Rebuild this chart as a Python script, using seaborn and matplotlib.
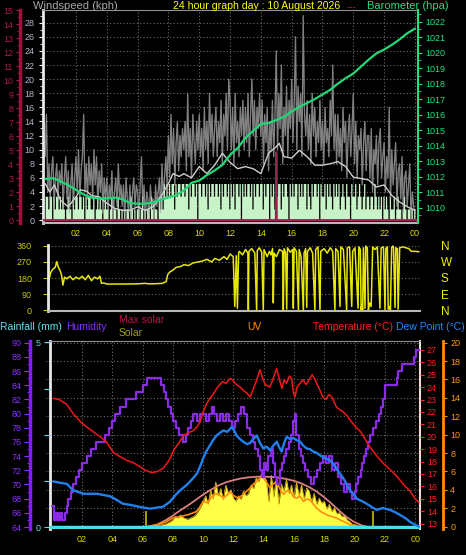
import numpy as np
import matplotlib
matplotlib.use('Agg')
import matplotlib.pyplot as plt
import seaborn as sns

W, H = 466, 555

# hour ticks
hour_pos = [2, 4, 6, 8, 10, 12, 14, 16, 18, 20, 22, 24]
hour_lbl = ['02', '04', '06', '08', '10', '12', '14', '16', '18', '20', '22', '00']

# ---------------- wind / barometer ----------------
baro_t = np.arange(0, 24.01, 0.5)
baro = [1011.85, 1011.9, 1011.7, 1011.45, 1011.15, 1010.85, 1010.65, 1010.6, 1010.6, 1010.65,
        1010.55, 1010.3, 1010.25, 1010.25, 1010.35, 1010.5, 1010.65, 1010.8, 1011.1, 1011.6,
        1011.75, 1012.1, 1012.4, 1012.75, 1013.4, 1013.85, 1014.5, 1014.95, 1015.4, 1015.45,
        1015.65, 1015.85, 1016.2, 1016.5, 1016.75, 1017.0, 1017.3, 1017.6, 1018.0, 1018.35,
        1018.65, 1019.1, 1019.55, 1019.95, 1020.2, 1020.5, 1020.85, 1021.25, 1021.55]

avg_t = [0, 0.3, 0.6, 1, 1.5, 2, 2.3, 2.7, 3, 3.5, 4, 4.5, 5, 5.5, 6, 6.5, 7, 7.5, 8, 8.3, 8.7, 9,
         9.5, 10, 10.5, 11, 11.5, 12, 12.5, 13, 13.5, 14, 14.5, 15, 15.2, 15.5, 16, 16.5, 17, 17.5,
         18, 18.5, 19, 19.5, 20, 20.5, 21, 21.5, 22, 22.5, 23, 23.5, 24]
avg_v = [5.2, 4.0, 5.0, 2.8, 1.9, 3.3, 4.3, 4.1, 3.5, 3.3, 2.4, 1.7, 1.4, 1.4, 1.9, 1.4, 1.9, 3.3,
         5.2, 6.6, 6.2, 6.6, 6.0, 7.6, 6.6, 7.8, 9.5, 8.2, 7.3, 7.6, 7.3, 6.6, 9.5, 10.4, 10.9, 9.0,
         8.8, 9.9, 9.0, 7.8, 7.8, 8.0, 8.3, 7.6, 6.1, 5.9, 5.7, 4.7, 5.0, 3.5, 2.6, 1.9, 1.4]

# 5 minute gusts, one row per hour
gust_rows = [
    [9, 15, 4, 8, 3, 7, 9, 2, 6, 8, 3, 7],
    [5, 8, 2, 6, 9, 3, 7, 1, 5, 8, 2, 6],
    [9, 4, 10, 3, 7, 9, 15, 4, 8, 3, 9, 5],
    [8, 3, 10, 5, 9, 2, 7, 4, 8, 1, 6, 3],
    [6, 1, 5, 3, 7, 0, 4, 6, 2, 8, 3, 5],
    [2, 5, 0, 6, 3, 1, 5, 0, 4, 6, 2, 5],
    [4, 0, 5, 9, 2, 5, 0, 4, 3, 0, 5, 2],
    [3, 0, 5, 2, 4, 6, 1, 8, 3, 6, 9, 5],
    [12, 6, 15, 8, 13, 5, 11, 14, 7, 12, 9, 13],
    [10, 14, 7, 18, 9, 13, 6, 15, 11, 8, 14, 10],
    [15, 9, 13, 7, 16, 10, 14, 8, 18, 11, 15, 9],
    [13, 16, 9, 14, 11, 17, 8, 15, 12, 18, 10, 20],
    [17, 10, 16, 8, 18, 11, 14, 9, 16, 12, 17, 10],
    [16, 11, 18, 9, 15, 20, 12, 17, 10, 16, 13, 18],
    [12, 17, 8, 15, 11, 16, 7, 14, 10, 17, 9, 15],
    [24, 10, 18, 13, 22, 8, 16, 12, 19, 9, 17, 13],
    [20, 11, 17, 26, 10, 19, 14, 18, 9, 29, 15, 12],
    [17, 10, 15, 8, 18, 12, 16, 9, 14, 11, 17, 10],
    [14, 8, 16, 11, 13, 9, 17, 12, 22, 10, 15, 8],
    [15, 9, 13, 7, 16, 11, 14, 6, 12, 15, 9, 13],
    [18, 8, 14, 6, 12, 10, 13, 5, 11, 14, 7, 12],
    [12, 6, 13, 4, 10, 8, 12, 5, 11, 13, 6, 9],
    [11, 4, 9, 6, 16, 3, 10, 5, 8, 11, 2, 7],
    [8, 3, 9, 1, 6, 7, 2, 5, 8, 0, 4, 2],
]
gust = [v for row in gust_rows for v in row] + [1]

# 5 minute wind speed
a, b, c = 1.6, 3.4, 5.2
speed_rows = [
    [b, b, a, b, b, 0, b, a, b, b, a, b],
    [a, b, a, 0, a, b, a, a, 0, b, a, b],
    [b, a, b, b, a, b, 0, b, a, b, b, a],
    [a, b, 0, a, b, a, b, a, 0, a, b, a],
    [a, 0, a, b, 0, a, a, 0, b, a, 0, a],
    [0, a, 0, a, a, 0, b, a, 0, a, 0, a],
    [a, 0, a, b, 0, a, 0, a, a, 0, b, a],
    [0, a, a, 0, b, a, b, a, c, b, c, b],
    [c, b, c, c, a, c, b, c, c, b, c, c],
    [b, c, c, a, c, b, c, c, b, c, 0, c],
    [c, b, c, c, b, c, a, c, b, c, c, b],
    [c, c, b, c, a, c, b, c, c, b, c, a],
    [c, b, c, a, c, c, b, c, 0, c, b, c],
    [b, c, c, b, c, a, c, b, c, c, b, c],
    [c, a, c, b, c, c, 0, c, b, c, a, c],
    [b, c, c, a, c, b, c, c, b, 0, c, b],
    [c, b, c, c, a, c, b, c, b, c, c, a],
    [c, b, a, c, b, c, c, b, c, 0, c, b],
    [b, c, a, c, b, c, b, a, c, b, c, b],
    [c, a, b, c, b, a, c, b, b, 0, c, b],
    [b, c, a, b, c, b, a, b, c, a, b, b],
    [a, b, b, a, c, b, a, b, a, b, 0, b],
    [a, b, a, 0, b, a, a, b, 0, a, b, a],
    [a, 0, a, b, a, 0, a, a, 0, a, 0, a],
]
speed = [v for row in speed_rows for v in row] + [0]
t5 = np.arange(len(gust)) / 12.0

rate_t = [-0.2, 14.98, 15.0, 15.02, 24.3]
rate_v = [0, 0, 4.85, 0, 0]

# ---------------- wind direction ----------------
dir_t = [0.2, 0.35, 0.5, 0.65, 0.75, 0.85, 0.95, 1.05, 1.15, 1.25, 1.4, 1.6, 1.8, 2.0, 2.2, 2.4, 2.6,
         2.8, 3.0, 3.2, 3.4, 3.55, 3.65, 3.8, 4.0, 5.0, 6.0, 6.5, 6.7, 7.2, 7.6, 7.85, 7.95, 8.1, 8.3,
         8.5, 8.8, 9.0, 9.3, 9.6, 9.9, 10.2, 10.5, 10.8, 11.0, 11.3, 11.6, 11.8, 12.0, 12.2, 12.3,
         12.4, 12.47, 12.55, 12.6, 12.8, 13.0, 13.15, 13.18, 13.22, 13.4, 13.6, 13.72, 13.76, 13.9,
         14.05, 14.15, 14.2, 14.4, 14.55, 14.65, 14.75, 14.8, 14.85, 15.0, 15.2, 15.4, 15.45, 15.5,
         15.6, 15.67, 15.72, 15.9, 16.05, 16.1, 16.15, 16.3, 16.43, 16.48, 16.6, 16.75, 16.8, 16.9,
         16.97, 17.02, 17.2, 17.35, 17.5, 17.55, 17.7, 17.83, 17.88, 18.1, 18.3, 18.5, 18.65, 18.8,
         18.85, 19.0, 19.13, 19.18, 19.35, 19.56, 19.6, 19.75, 19.89, 19.95, 20.1, 20.3, 20.35, 20.45,
         20.5, 20.55, 20.6, 20.65, 20.75, 20.8, 20.9, 20.97, 21.05, 21.15, 21.25, 21.4, 21.55, 21.72,
         21.8, 21.95, 22.05, 22.1, 22.2, 22.26, 22.35, 22.4, 22.48, 22.55, 22.6, 22.7, 22.75, 22.85,
         22.9, 23.0, 23.2, 23.4, 23.6, 23.75, 24.0, 24.25]
dir_v = [150, 210, 230, 240, 272, 240, 225, 200, 140, 185, 175, 190, 170, 185, 175, 190, 170,
         195, 165, 185, 175, 190, 150, 152, 146, 146, 147, 150, 147, 148, 150, 160, 200, 215, 225,
         240, 245, 255, 250, 265, 270, 275, 285, 270, 290, 280, 300, 285, 315, 300, 20,
         305, 10, 320, 330, 310, 340, 320, 0, 330, 345, 320, 0, 335, 350,
         325, 0, 340, 300, 330, 310, 345, 40, 320, 300, 340, 330, 0, 345,
         320, 5, 350, 325, 340, 10, 350, 330, 0, 340, 300, 0, 320, 345,
         15, 330, 350, 320, 0, 340, 355, 0, 330, 345, 320, 350, 330, 0,
         345, 330, 20, 355, 340, 0, 350, 355, 20, 330, 350, 10, 355, 340,
         0, 30, 0, 350, 10, 360, 350, 0, 40, 20, 355, 340, 355, 10,
         350, 355, 0, 345, 355, 5, 20, 0, 350, 360, 355, 15, 350, 345,
         5, 350, 355, 350, 345, 330, 330, 328]

# ---------------- temperature / humidity / solar ----------------
temp_t = [0.1, 0.5, 1.0, 1.4, 1.9, 2.3, 2.75, 3.2, 3.6, 4.1, 4.5, 4.95, 5.4, 5.8, 6.2, 6.6, 7.0, 7.4,
          7.8, 8.1, 8.4, 8.7, 9.0, 9.35, 9.6, 9.8, 10.0, 10.2, 10.45, 10.7, 10.9, 11.1, 11.3, 11.5,
          11.8, 12.0, 12.2, 12.45, 12.65, 12.9, 13.1, 13.3, 13.5, 13.75, 13.9, 14.1, 14.4, 14.6,
          14.85, 15.0, 15.2, 15.35, 15.5, 15.7, 15.85, 15.95, 16.07, 16.2, 16.4, 16.6, 16.8, 17.0,
          17.2, 17.35, 17.5, 17.7, 17.9, 18.1, 18.3, 18.5, 18.8, 19.0, 19.25, 19.5, 19.7, 20.0,
          20.4, 20.7, 21.0, 21.5, 21.9, 22.3, 22.8, 23.2, 23.67, 24.0, 24.25]
temp = [23.1, 23.0, 22.6, 21.9, 21.2, 20.8, 20.4, 20.0, 19.6, 18.7, 18.4, 18.1, 17.9, 17.6, 17.3,
        17.1, 17.2, 17.5, 18.2, 19.0, 19.5, 20.1, 20.3, 20.5, 20.8, 21.2, 22.0, 22.6, 23.1, 23.5,
        23.9, 24.2, 24.45, 24.3, 24.7, 24.5, 24.2, 24.0, 23.75, 23.5, 23.2, 23.8, 24.45, 25.4,
        24.8, 24.2, 24.0, 24.6, 25.5, 24.8, 23.9, 24.6, 24.3, 24.9, 24.7, 23.6, 23.2, 24.0, 24.3,
        24.6, 24.2, 24.6, 25.0, 24.7, 24.3, 23.8, 23.2, 23.0, 23.4, 23.2, 22.4, 22.2, 22.0, 21.7,
        21.35, 20.9, 20.4, 19.8, 19.2, 18.4, 17.85, 17.4, 16.8, 16.2, 15.6, 15.0, 14.7]

dew_t = [0.1, 0.5, 1.0, 1.4, 2.1, 3.0, 3.85, 4.3, 4.7, 5.2, 5.6, 6.0, 6.5, 7.0, 7.35, 7.8, 8.25, 8.6,
         8.9, 9.3, 9.6, 9.8, 10.0, 10.2, 10.45, 10.7, 10.9, 11.1, 11.33, 11.6, 11.9, 12.05, 12.2,
         12.45, 12.65, 12.9, 13.1, 13.3, 13.54, 13.75, 13.98, 14.2, 14.42, 14.65, 14.86, 15.0,
         15.19, 15.35, 15.52, 15.75, 15.96, 16.2, 16.4, 16.6, 16.84, 17.05, 17.28, 17.5, 17.72,
         18.0, 18.38, 18.65, 18.93, 19.26, 19.5, 19.7, 19.9, 20.15, 20.5, 20.8, 21.1, 21.47, 21.7,
         21.9, 22.15, 22.35, 22.7, 23.0, 23.4, 23.7, 24.0, 24.25]
dew = [16.4, 16.3, 16.2, 15.7, 15.4, 15.4, 15.2, 14.9, 14.6, 14.5, 14.4, 14.3, 14.2, 14.3, 14.35,
       14.75, 15.4, 15.8, 16.1, 16.6, 17.05, 17.6, 18.25, 18.8, 19.3, 19.8, 20.1, 20.3, 20.5, 20.4,
       20.8, 20.5, 20.1, 19.8, 19.6, 19.4, 19.5, 19.8, 20.1, 19.5, 19.05, 19.2, 18.9, 19.3, 19.6,
       19.2, 18.8, 19.5, 20.0, 19.8, 19.9, 19.7, 19.6, 19.3, 19.05, 19.0, 18.8, 18.7, 18.5, 18.3,
       18.1, 17.7, 17.2, 16.65, 16.1, 15.7, 15.4, 15.0, 14.8, 14.6, 14.35, 14.1, 14.2, 14.25, 14.15,
       14.1, 13.9, 13.7, 13.4, 13.1, 12.9, 12.75]

hum_t = [0.0, 0.15, 0.3, 0.45, 0.55, 0.7, 0.85, 1.0, 1.1, 1.25, 1.4, 1.6, 1.8, 2.0, 2.3, 2.6, 2.9,
         3.5, 3.8, 4.0, 4.2, 4.5, 4.9, 5.6, 6.0, 6.3, 7.2, 7.4, 7.55, 7.7, 7.85, 8.0, 8.2, 8.4, 8.5,
         8.7, 8.85, 9.0, 9.2, 9.35, 9.6, 9.8, 10.2, 10.4, 10.6, 10.75, 10.9, 11.1, 11.3, 11.5, 11.7,
         11.9, 12.1, 12.3, 12.5, 12.7, 12.9, 13.1, 13.3, 13.45, 13.6, 13.75, 13.9, 14.0, 14.15,
         14.3, 14.45, 14.6, 14.75, 14.9, 15.05, 15.2, 15.35, 15.5, 15.65, 15.8, 15.95, 16.05, 16.15,
         16.3, 16.45, 16.6, 16.75, 16.9, 17.1, 17.3, 17.5, 17.7, 17.9, 18.1, 18.3, 18.5, 18.7,
         18.9, 19.1, 19.3, 19.5, 19.7, 19.85, 20.0, 20.1, 20.25, 20.4, 20.5, 20.6, 20.75, 20.9,
         21.05, 21.2, 21.4, 21.6, 21.75, 21.85, 22.0, 22.8, 22.9, 23.15, 23.9, 24.05, 24.3]
hum = [67, 65, 66, 65, 66, 65, 66, 67, 68, 69, 70, 71, 72, 73, 74, 75, 76,
       77, 78, 79, 80, 81, 82, 83, 84, 85, 84, 83, 82, 81, 80, 79, 78, 77, 77,
       76, 77, 78, 79, 80, 79, 80, 79, 80, 81, 80, 79, 80, 79, 80, 79,
       78, 79, 80, 81, 80, 78, 77, 76, 75, 74, 72, 71, 73, 72,
       74, 75, 73, 71, 70, 72, 73, 74, 75, 76, 77, 79, 80, 77,
       75, 74, 73, 72, 71, 70, 71, 72, 73, 74, 73, 74, 72, 73,
       71, 70, 69, 70, 69, 68, 69, 70, 71, 72, 73, 74, 75, 76,
       77, 78, 79, 80, 81, 82, 84, 85, 86, 87, 88, 89, 89]

uv_t = [6.3, 7.0, 7.5, 8.0, 8.5, 9.0, 9.5, 9.7, 10.0, 10.3, 10.5, 10.8, 11.0, 11.3, 11.5, 11.8,
        12.0, 12.3, 12.65, 12.9, 13.1, 13.3, 13.54, 13.8, 13.98, 14.2, 14.42, 14.6, 14.86, 15.1,
        15.3, 15.5, 15.74, 15.95, 16.18, 16.4, 16.62, 16.85, 17.06, 17.3, 17.5, 17.8, 18.16,
        18.5, 18.8, 19.1, 19.48, 19.9, 20.3]
uv = [0, 0.2, 0.5, 0.95, 1.1, 1.3, 1.6, 1.9, 2.75, 2.6, 3.1, 3.6, 3.5, 3.2, 3.3, 3.8,
      3.4, 3.1, 3.5, 3.9, 4.2, 4.6, 4.9, 5.4, 5.3, 4.8, 4.2, 4.6, 4.9, 4.0,
      3.5, 3.9, 3.85, 3.3, 3.1, 3.3, 2.75, 3.0, 2.9, 2.4, 2.0, 1.6, 1.3,
      1.1, 0.95, 0.7, 0.4, 0.05, 0]

maxsol_t = [-0.1, 6.25, 6.5, 7, 7.5, 8, 8.5, 9, 9.5, 10, 10.5, 11, 11.5, 12, 12.5, 13, 13.5, 14,
            14.5, 15, 15.5, 16, 16.5, 17, 17.5, 18, 18.5, 19, 19.5, 20, 20.5, 20.9, 24.3]
maxsol = [0, 0, 15, 45, 110, 190, 280, 360, 450, 540, 620, 690, 745, 780, 810, 828, 838, 840,
          834, 822, 800, 770, 725, 665, 590, 495, 385, 270, 160, 80, 25, 0, 0]

# 10 minute solar radiation, one row per hour from 06:00
solar_rows = [
    [0, 0, 5, 10, 15, 20],
    [25, 30, 40, 50, 70, 90],
    [120, 180, 150, 200, 160, 140],
    [130, 150, 170, 200, 260, 330],
    [420, 520, 380, 610, 470, 750],
    [520, 640, 450, 700, 560, 620],
    [480, 430, 520, 460, 600, 520],
    [560, 700, 640, 820, 760, 870],
    [850, 780, 420, 860, 500, 820],
    [380, 720, 600, 790, 560, 700],
    [480, 740, 520, 700, 460, 650],
    [600, 420, 560, 380, 480, 400],
    [430, 300, 380, 260, 320, 220],
    [240, 170, 200, 120, 90, 50],
    [40, 25, 15, 10, 5, 0],
]
solar = [v for row in solar_rows for v in row] + [0]
solar_t = 6 + np.arange(len(solar)) / 6.0

sun_t = [6.2, 21.2]
sun_h = [270, 270]

rain_t = [-0.2, 24.4]
rain = [0, 0]

# ---------------- drawing ----------------
sns.set_style('dark', {'axes.facecolor': 'black', 'figure.facecolor': 'black'})
plt.rcParams['font.family'] = ['Liberation Sans', 'DejaVu Sans']

fig = plt.figure(figsize=(W / 100, H / 100), dpi=100)


def box(l, t, r, bt):
    return [l / W, 1 - bt / H, (r - l) / W, (bt - t) / H]


def bare(ax):
    for s in ax.spines.values():
        s.set_visible(False)
    ax.set_facecolor('none')
    ax.grid(False)


def line(ax, x, y, color, lw, **kw):
    sns.lineplot(x=x, y=y, ax=ax, color=color, lw=lw, estimator=None, sort=False,
                 legend=False, **kw)


grid_kw = dict(color='#6a6a6a', ls=(0, (1, 2)), lw=0.8)
yel = '#d8d800'

# panel 1
ax1 = fig.add_axes(box(43, 10, 418, 223))
ax1.set_xlim(-0.14, 24.2)
ax1.set_ylim(-0.4, 29.8)
ax1.set_xticks(hour_pos, hour_lbl)
ax1.set_yticks(range(0, 29, 2))
ax1.set_yticks(range(1, 30, 2), minor=True)
ax1.grid(True, **grid_kw)
ax1.tick_params(axis='x', length=0, colors=yel, labelsize=6.5, pad=4)
ax1.tick_params(axis='y', which='both', left=True, colors='white', labelcolor='#b4b4cc',
                labelsize=6.5, length=3, pad=3)
ax1.tick_params(axis='y', which='minor', length=2)
for k, s in ax1.spines.items():
    s.set_visible(k != 'right')
ax1.spines['left'].set_color('#e8e8e8')
ax1.spines['left'].set_linewidth(2)
ax1.spines['bottom'].set_color('#b8b8b8')
ax1.spines['bottom'].set_linewidth(1.5)
ax1.spines['top'].set_color('#909090')

line(ax1, t5, gust, '#8c8c8c', 0.9, zorder=1)
ax1.fill_between(t5, speed, step='post', color='#c8f2c8', lw=0, zorder=2)
line(ax1, t5, gust, '#6a6a6a', 0.5, zorder=2.5, alpha=0.4)
line(ax1, avg_t, avg_v, '#cfcfcf', 1.0, zorder=3)
ax1.set_xlabel('')
ax1.set_ylabel('')

ax1c = ax1.twinx()
bare(ax1c)
ax1c.set_ylim(-0.2, 14.9)
ax1c.yaxis.tick_left()
ax1c.spines['left'].set_visible(True)
ax1c.spines['left'].set_position(('axes', -0.061))
ax1c.spines['left'].set_color('#a0103c')
ax1c.spines['left'].set_linewidth(2.5)
ax1c.set_yticks(range(0, 16))
ax1c.set_yticks(np.arange(0.5, 15, 1), minor=True)
ax1c.tick_params(axis='y', which='both', colors='#b0184a', labelsize=6.5, length=3, pad=2)
ax1c.tick_params(axis='y', which='minor', length=2)
line(ax1c, rate_t, rate_v, '#a02050', 1.6)
ax1c.set_ylabel('')

ax1b = ax1.twinx()
bare(ax1b)
ax1b.set_ylim(1009.01, 1022.75)
ax1b.spines['right'].set_visible(True)
ax1b.spines['right'].set_color('#20e080')
ax1b.spines['right'].set_linewidth(1.5)
ax1b.set_yticks(range(1010, 1023))
ax1b.set_yticks(np.arange(1009.5, 1022.6, 1), minor=True)
ax1b.tick_params(axis='y', which='both', colors='#20e080', labelsize=6.5, length=3, pad=2)
ax1b.tick_params(axis='y', which='minor', length=2)
line(ax1b, baro_t, baro, '#20d878', 1.6)
ax1b.set_ylabel('')

# panel 2
ax2 = fig.add_axes(box(48, 245, 420, 311))
ax2.set_xlim(0.18, 24.32)
ax2.set_ylim(-5.6, 365.6)
ax2.set_xticks([])
ax2.set_yticks([0, 90, 180, 270, 360])
ax2.grid(True, axis='y', **grid_kw)
ax2.tick_params(axis='y', left=False, colors='#c8c800', labelsize=6.5, pad=8)
for k, s in ax2.spines.items():
    s.set_visible(k in ('left', 'bottom'))
ax2.spines['left'].set_color('#e8e8e8')
ax2.spines['left'].set_linewidth(2)
ax2.spines['bottom'].set_color('#b8b8b8')
ax2.spines['bottom'].set_linewidth(1.5)
line(ax2, dir_t, dir_v, '#e8e800', 1.1)
ax2.set_ylabel('')

ax2n = ax2.twinx()
bare(ax2n)
ax2n.set_ylim(-5.6, 365.6)
ax2n.set_yticks([0, 90, 180, 270, 360], ['N', 'E', 'S', 'W', 'N'])
ax2n.tick_params(axis='y', length=0, colors='#f0f000', labelsize=8.5, pad=15)

# panel 3
ax3 = fig.add_axes(box(50, 341, 420, 529))
ax3.set_xlim(-0.11, 24.32)
ax3.set_ylim(-0.25, 20.18)
ax3.set_xticks(hour_pos, hour_lbl)
ax3.set_yticks(range(0, 21, 2))
ax3.grid(True, **grid_kw)
ax3.tick_params(axis='x', length=0, colors=yel, labelsize=6.5, pad=4)
ax3.tick_params(axis='y', left=False, labelleft=False)
ax3.spines['left'].set_color('#e8e8e8')
ax3.spines['left'].set_linewidth(2)
ax3.spines['top'].set_color('#909090')
ax3.spines['right'].set_color('#f0d8d8')
ax3.spines['right'].set_linewidth(1.5)
ax3.spines['bottom'].set_visible(False)

axs = ax3.twinx()
bare(axs)
axs.set_ylim(-33, 3100)
axs.set_yticks([])
axs.fill_between(solar_t, solar, color='#ffff48', lw=0)
line(axs, solar_t, solar, '#e0b000', 0.6)
line(axs, maxsol_t, maxsol, '#d88080', 1.3)
axs.vlines(sun_t, 0, sun_h, color='#a0a000', lw=1.5)
axs.set_ylabel('')

axu = ax3.twinx()
bare(axu)
axu.set_ylim(-0.25, 20.18)
axu.spines['right'].set_visible(True)
axu.spines['right'].set_position(('axes', 1.063))
axu.spines['right'].set_color('#ff8c00')
axu.spines['right'].set_linewidth(2)
axu.set_yticks(range(0, 21, 2))
axu.tick_params(axis='y', colors='#ff9a00', labelsize=6.5, length=3, pad=2)
line(axu, uv_t, uv, '#ff8c10', 1.2)
axu.set_ylabel('')

axh = ax3.twinx()
bare(axh)
axh.set_ylim(63.72, 90.24)
axh.yaxis.tick_left()
axh.spines['left'].set_visible(True)
axh.spines['left'].set_position(('axes', -0.054))
axh.spines['left'].set_color('#8020f0')
axh.spines['left'].set_linewidth(2.5)
axh.set_yticks(range(64, 91, 2))
axh.set_yticks(range(65, 90, 2), minor=True)
axh.tick_params(axis='y', which='both', colors='#8a30ff', labelsize=6.5, length=4, pad=2)
axh.tick_params(axis='y', which='minor', length=2)
line(axh, hum_t, hum, '#8a2be8', 1.6, drawstyle='steps-post')
axh.set_ylabel('')

axr = ax3.twinx()
bare(axr)
axr.set_ylim(-0.054, 5.04)
axr.yaxis.tick_left()
axr.set_yticks([0, 1.25, 2.5, 3.75, 5], ['0', '', '', '', '5'])
axr.tick_params(axis='y', colors='#60d8e8', labelsize=6.5, length=4, pad=3)
line(axr, rain_t, rain, '#40e0f0', 2.5)
axr.set_ylabel('')

axt = ax3.twinx()
bare(axt)
axt.set_ylim(12.56, 27.72)
axt.set_yticks(range(13, 28))
axt.tick_params(axis='y', colors='#ff2020', labelsize=6.5, length=3, pad=2)
line(axt, dew_t, dew, '#2080f0', 1.7)
line(axt, temp_t, temp, '#f01818', 1.1)
axt.set_ylabel('')

# texts
def ftext(x, y, s, color, size=8, ha='left'):
    fig.text(x / W, 1 - y / H, s, color=color, fontsize=size, ha=ha, va='center')


ftext(33, 6, 'Windspeed (kph)', '#a8a8a8')
ftext(173, 6, '24 hour graph day : 10 August 2026', '#ffff00', 7.6)
ftext(347, 7, '---', '#c01040', 7)
ftext(449, 6, 'Barometer (hpa)', '#20e080', ha='right')
ftext(0, 327, 'Rainfall (mm)', '#60e0f0', 7.5)
ftext(66, 327, 'Humidity', '#8a30ff', 7.5)
ftext(119, 320, 'Max solar', '#c01048', 7.5)
ftext(119, 333, 'Solar', '#a0a000', 7.5)
ftext(247, 327, 'UV', '#ff8c00', 7.5)
ftext(313, 327, 'Temperature (\u00b0C)', '#ff2020', 7.5)
ftext(465, 327, 'Dew Point (\u00b0C)', '#2088ff', 7.5, ha='right')

fig.savefig('out.png', dpi=100, facecolor='black')
